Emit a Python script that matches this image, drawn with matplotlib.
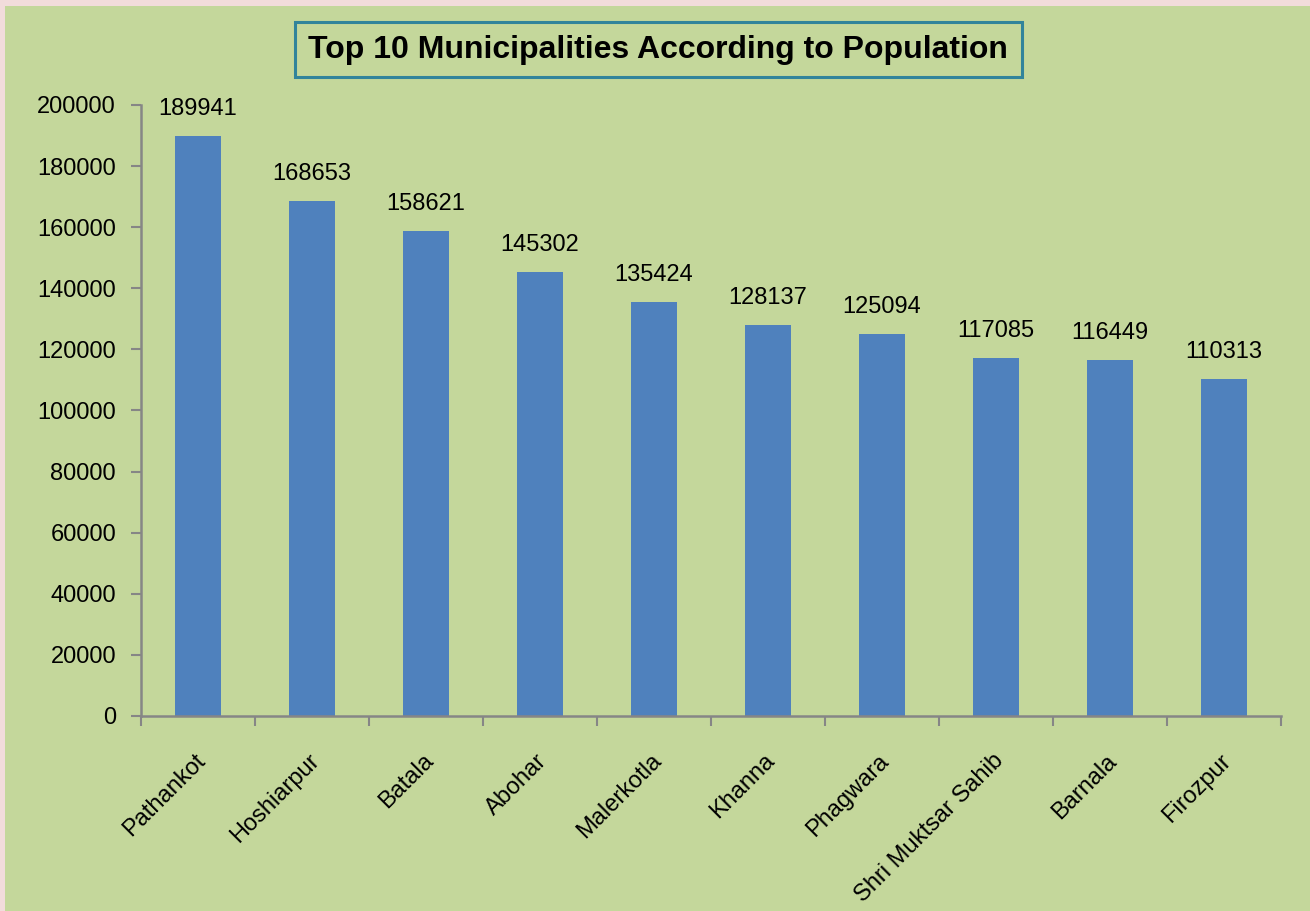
import matplotlib
matplotlib.use("Agg")
import matplotlib.pyplot as plt
from matplotlib.patches import Rectangle
from matplotlib import font_manager

# Top 10 municipalities by population
cities = ["Pathankot", "Hoshiarpur", "Batala", "Abohar", "Malerkotla",
          "Khanna", "Phagwara", "Shri Muktsar Sahib", "Barnala", "Firozpur"]
population = [189941, 168653, 158621, 145302, 135424,
              128137, 125094, 117085, 116449, 110313]
yticks = list(range(0, 200001, 20000))

installed = {f.name for f in font_manager.fontManager.ttflist}
title_font = "Liberation Sans Narrow" if "Liberation Sans Narrow" in installed else "Liberation Sans"
title_size = 27 if title_font == "Liberation Sans Narrow" else 23

W, H = 1310, 911
fig = plt.figure(figsize=(W / 100, H / 100), dpi=100)
fig.patch.set_facecolor("#F2DCDB")

green = "#C4D79B"
axis_grey = "#868686"
body_font = ["Liberation Sans", "DejaVu Sans"]

# green chart area (pink strip on top and left)
fig.patches.append(Rectangle((5 / W, 0), 1 - 5 / W, 1 - 6 / H,
                             transform=fig.transFigure, facecolor=green,
                             edgecolor="none", zorder=-5))

# title box
fig.patches.append(Rectangle((295 / W, 1 - 77 / H), 727 / W, 55 / H,
                             transform=fig.transFigure, facecolor="none",
                             edgecolor="#31849B", linewidth=2.2, zorder=1))
fig.text(658 / W, 1 - 50 / H, "Top 10 Municipalities According to Population",
         ha="center", va="center", fontsize=title_size, fontweight="bold",
         family=[title_font, "DejaVu Sans"], color="black", zorder=2)

ax = fig.add_axes([141 / W, 1 - 716 / H, 1140 / W, (716 - 105) / H])
ax.set_facecolor("none")

x = list(range(len(cities)))
ax.bar(x, population, width=0.4, color="#4F81BD", zorder=2)

for xi, val in zip(x, population):
    ax.annotate(str(val), (xi, val), xytext=(0, 16), textcoords="offset pixels",
                ha="center", va="bottom", fontsize=17, family=body_font)

ax.set_xlim(-0.5, len(cities) - 0.5)
ax.set_ylim(0, 200000)
ax.set_yticks(yticks)
ax.set_yticklabels([str(t) for t in yticks], fontsize=17, family=body_font)

# x ticks sit between the categories
ax.set_xticks([i - 0.5 for i in range(len(cities) + 1)])
ax.set_xticklabels([])
ax.tick_params(axis="x", length=7, width=1.5, color=axis_grey, direction="out")
ax.tick_params(axis="y", length=7, width=1.5, color=axis_grey, direction="out", pad=11)

for xi, name in zip(x, cities):
    ax.annotate(name, (xi, 0), xytext=(-4, -34), textcoords="offset pixels",
                rotation=45, rotation_mode="anchor", ha="right", va="top",
                fontsize=17, family=body_font, annotation_clip=False)

for side in ["top", "right"]:
    ax.spines[side].set_visible(False)
for side in ["left", "bottom"]:
    ax.spines[side].set_color(axis_grey)
    ax.spines[side].set_linewidth(1.8)

fig.savefig("out.png", dpi=100, facecolor=fig.get_facecolor())
